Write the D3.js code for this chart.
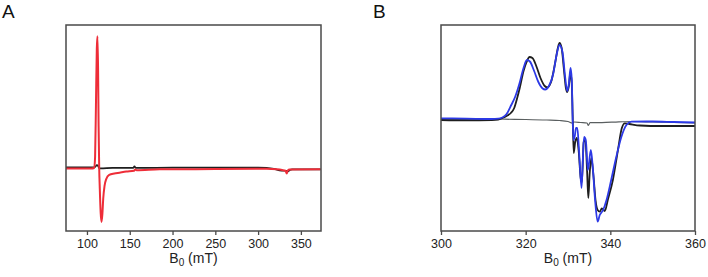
<!DOCTYPE html>
<html>
<head>
<meta charset="utf-8">
<script src="https://cdn.jsdelivr.net/npm/d3@7"></script>
<style>
  html, body { margin: 0; padding: 0; background: #fff; }
  svg { display: block; font-family: "Liberation Sans", Arial, sans-serif; }
</style>
</head>
<body>
<svg id="chart" width="708" height="277"></svg>
<script>
// Panel A: wide field sweep, [B0 mT, intensity a.u.]
const A_TICKS = [100, 150, 200, 250, 300, 350];
const A_RED = [
  [75, -0.004], [105, -0.004], [108.5, 0.0], [109.5, 0.08], [110.5, 0.45], [111.5, 0.85],
  [112.3, 0.94], [113, 0.7], [113.6, 0.3], [114.3, 0.0], [115, -0.15], [116, -0.32],
  [117, -0.385], [118, -0.33], [119, -0.22], [120.5, -0.13], [122.5, -0.08], [126, -0.05],
  [132, -0.04], [138, -0.034], [146, -0.026], [155, -0.02], [156.5, -0.011], [158, -0.017],
  [185, -0.01], [250, -0.008], [310, -0.006], [322, -0.01], [328, -0.015], [332, -0.02],
  [333.5, -0.04], [334.5, -0.02], [337, -0.012], [373, -0.01]
];
const A_BLACK = [
  [75, 0.005], [108, 0.005], [110, 0.01], [111.5, 0.02], [113, 0.015], [114, 0.0],
  [116, -0.003], [130, 0.0], [154, 0.0], [155.5, 0.012], [157, 0.0], [200, 0.002],
  [300, 0.003], [310, 0.0], [320, -0.008], [325, -0.018], [330, -0.02], [333, -0.02],
  [335, -0.025], [337, -0.015], [340, -0.01], [373, -0.01]
];

// Panel B: g ~ 2 region, [B0 mT, intensity a.u.]
const B_TICKS = [300, 320, 340, 360];
const B_GRAY = [
  [300, 0.01], [305, 0.007], [310, 0.012], [315, 0.008], [320, 0.005], [325, 0.0],
  [328, -0.005], [330, -0.015], [331, -0.03], [331.5, -0.02], [333, -0.025], [334.5, -0.03],
  [334.8, -0.055], [335.2, -0.027], [338, -0.027], [342, -0.018], [345, -0.015],
  [350, -0.02], [355, -0.025], [360, -0.03]
];
const B_BLACK = [
  [300, 0.0], [306, -0.003], [312, 0.0], [313.5, 0.005], [314.5, 0.02], [315.5, 0.04],
  [316.5, 0.07], [317.3, 0.12], [318, 0.22], [318.6, 0.32], [319.5, 0.49], [320.3, 0.59],
  [320.9, 0.63], [321.6, 0.62], [322.5, 0.54], [323.5, 0.42], [324.5, 0.34], [325.1, 0.327],
  [326, 0.38], [327, 0.58], [327.6, 0.72], [328, 0.77], [328.5, 0.72], [329, 0.52],
  [329.5, 0.32], [329.8, 0.28], [330.2, 0.34], [330.6, 0.48], [330.9, 0.35], [331.1, 0.05],
  [331.35, -0.33], [331.7, -0.22], [332.1, -0.18], [332.5, -0.30], [333.0, -0.58],
  [333.3, -0.62], [333.7, -0.22], [334.1, -0.20], [334.5, -0.50], [334.8, -0.78],
  [335.1, -0.55], [335.5, -0.38], [336, -0.55], [336.5, -0.80], [337.0, -0.90],
  [337.5, -0.917], [338.0, -0.883], [338.7, -0.91], [339.4, -0.80], [340.6, -0.60],
  [341.8, -0.30], [342.7, -0.083], [343.4, -0.033], [344.5, -0.04], [347, -0.055],
  [352, -0.06], [360, -0.06]
];
const B_BLUE = [
  [300, 0.017], [306, 0.014], [312, 0.01], [313.5, 0.013], [314.5, 0.025], [315.5, 0.06],
  [316.6, 0.15], [317.5, 0.23], [318.5, 0.36], [319.5, 0.52], [320.3, 0.60], [321, 0.585],
  [322, 0.49], [323, 0.38], [324, 0.315], [324.6, 0.305], [325.5, 0.34], [326.5, 0.46],
  [327.3, 0.65], [328, 0.75], [328.7, 0.68], [329.3, 0.44], [329.8, 0.29], [330.2, 0.36],
  [330.6, 0.52], [330.9, 0.40], [331.1, 0.0], [331.3, -0.20], [331.6, -0.16], [331.9, -0.08],
  [332.2, -0.08], [332.6, -0.30], [333.2, -0.68], [333.5, -0.40], [333.8, -0.17],
  [334.2, -0.20], [334.7, -0.50], [335.4, -0.30], [335.9, -0.50], [336.4, -0.80],
  [337.0, -1.017], [337.5, -0.95], [338.3, -0.90], [339.1, -0.80], [340.2, -0.60],
  [341.4, -0.37], [342.6, -0.17], [343.8, -0.05], [345, -0.017], [350, -0.015],
  [355, -0.02], [360, -0.025]
];

const svg = d3.select("#chart");
const frameTop = 25, frameBottom = 231;

function panel(cfg) {
  const x = d3.scaleLinear().domain(cfg.xDomain).range([cfg.left, cfg.right]);
  const y = d3.scaleLinear().domain(cfg.yDomain).range([frameBottom, frameTop]);
  const g = svg.append("g");

  g.append("clipPath").attr("id", cfg.id + "-clip")
    .append("rect")
    .attr("x", cfg.left).attr("y", frameTop)
    .attr("width", cfg.right - cfg.left).attr("height", frameBottom - frameTop);

  const line = d3.line()
    .x(d => x(d[0]))
    .y(d => y(d[1]))
    .curve(d3.curveMonotoneX);

  const plot = g.append("g").attr("clip-path", `url(#${cfg.id}-clip)`);
  cfg.series.forEach(s => {
    plot.append("path")
      .datum(s.data)
      .attr("fill", "none")
      .attr("stroke", s.color)
      .attr("stroke-width", s.width)
      .attr("stroke-linejoin", "round")
      .attr("d", line);
  });

  // frame
  g.append("rect")
    .attr("x", cfg.left).attr("y", frameTop)
    .attr("width", cfg.right - cfg.left).attr("height", frameBottom - frameTop)
    .attr("fill", "none").attr("stroke", "#4a4a4a").attr("stroke-width", 1.5);

  const ax = g.append("g")
    .attr("transform", `translate(0,${frameBottom})`)
    .call(d3.axisBottom(x).tickValues(cfg.ticks).tickSize(4).tickSizeOuter(0).tickPadding(4));
  ax.select(".domain").remove();
  ax.selectAll("line").attr("stroke", "#4a4a4a").attr("stroke-width", 1.3);
  ax.selectAll("text").attr("font-size", 12.5).attr("fill", "#222")
    .attr("font-family", "Liberation Sans, Arial, sans-serif");

  // axis title with subscript
  const t = g.append("text")
    .attr("x", (cfg.left + cfg.right) / 2)
    .attr("y", 263)
    .attr("text-anchor", "middle")
    .attr("font-size", 14)
    .attr("fill", "#222");
  t.append("tspan").text("B");
  t.append("tspan").attr("font-size", 10).attr("dy", 3).text("0");
  t.append("tspan").attr("dy", -3).text(" (mT)");

  svg.append("text")
    .attr("x", cfg.labelX).attr("y", 18)
    .attr("font-size", 19).attr("fill", "#111")
    .text(cfg.id);
}

panel({
  id: "A", labelX: 2, left: 66, right: 321,
  xDomain: [75.5, 373.5], yDomain: [-0.45, 1.02], ticks: A_TICKS,
  series: [
    { data: A_BLACK, color: "#1e1e1e", width: 1.7 },
    { data: A_RED, color: "#ee2d38", width: 2 }
  ]
});

panel({
  id: "B", labelX: 373, left: 441, right: 695,
  xDomain: [300, 360], yDomain: [-1.11, 0.95], ticks: B_TICKS,
  series: [
    { data: B_GRAY, color: "#5a5f60", width: 1.2 },
    { data: B_BLACK, color: "#1e1e1e", width: 1.8 },
    { data: B_BLUE, color: "#2c39e6", width: 1.8 }
  ]
});
</script>
</body>
</html>
